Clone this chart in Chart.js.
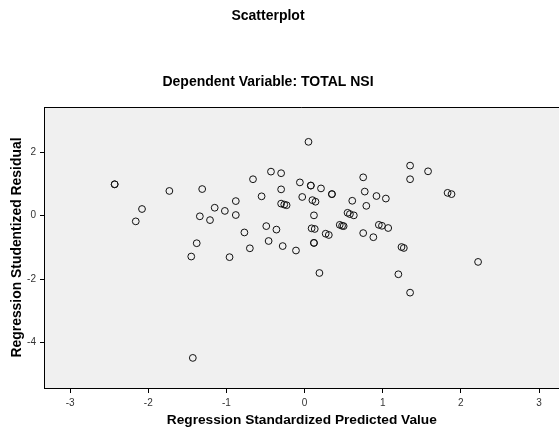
<!DOCTYPE html>
<html>
<head>
<meta charset="utf-8">
<script src="https://cdn.jsdelivr.net/npm/chart.js@4"></script>
<style>
  html, body { margin: 0; padding: 0; background: #ffffff; overflow: hidden; width: 559px; height: 430px; }
  #c { display: block; }
</style>
</head>
<body>
<canvas id="c" width="564" height="430"></canvas>
<script>
// Regression Standardized Predicted Value (x) and Regression Studentized Residual (y)
const predicted = [
  -2.43, -2.43, -1.73, -2.08, -2.16, -1.31, -1.34, -1.21, -1.38, -1.45,
  -1.43, -1.15, -1.02, -0.88, -0.88, -0.96, -0.77, -0.70, -0.66, -0.55,
  -0.49, -0.46, -0.43, -0.30, -0.36, -0.30, -0.28, -0.30, -0.26, -0.23,
  -0.11, -0.06, -0.03, 0.08, 0.08, 0.21, 0.10, 0.14, 0.12, 0.09,
  0.13, 0.12, 0.12, 0.19, 0.27, 0.31, 0.35, 0.35, 0.45, 0.48,
  0.50, 0.55, 0.58, 0.63, 0.61, 0.75, 0.77, 0.79, 0.75, 0.88,
  0.92, 1.04, 0.95, 0.99, 1.07, 1.35, 1.58, 1.35, 1.83, 1.88,
  1.24, 1.27, 2.22, 1.20, 1.35, 0.05
];
const residual = [
  0.99, 0.99, 0.78, 0.21, -0.18, 0.84, -0.02, -0.14, -0.87, -1.29,
  -4.49, 0.25, 0.15, 0.46, 0.02, -1.31, -0.53, -1.03, 1.15, 0.61,
  -0.33, -0.80, 1.39, 1.34, -0.44, 0.83, -0.96, 0.38, 0.35, 0.33,
  -1.10, 1.05, 0.59, 0.95, 0.95, 0.86, 0.49, 0.44, 0.01, -0.40,
  -0.42, -0.86, -0.86, -1.81, -0.57, -0.61, 0.68, 0.68, -0.29, -0.32,
  -0.33, 0.09, 0.05, 0.01, 0.47, 1.21, 0.76, 0.31, -0.55, -0.68,
  0.62, 0.54, -0.29, -0.32, -0.39, 1.58, 1.40, 1.15, 0.72, 0.68,
  -0.99, -1.02, -1.46, -1.85, -2.43, 2.33
];
const xTicks = [-3, -2, -1, 0, 1, 2, 3];
const yTicks = [-4, -2, 0, 2];
const mainTitle = 'Scatterplot';
const subTitle = 'Dependent Variable: TOTAL NSI';
const xTitle = 'Regression Standardized Predicted Value';
const yTitle = 'Regression Studentized Residual';

const FONT = '"Liberation Sans", Arial, Helvetica, sans-serif';

const points = predicted.map((x, i) => ({ x: x, y: residual[i] }));

const framePlugin = {
  id: 'frame',
  beforeDraw(chart) {
    const { ctx, chartArea: a } = chart;
    ctx.save();
    ctx.fillStyle = '#f0f0f0';
    ctx.fillRect(a.left, a.top, a.right - a.left, a.bottom - a.top);
    ctx.strokeStyle = '#000000';
    ctx.lineWidth = 1;
    ctx.beginPath();
    ctx.moveTo(a.left, a.top + 0.5);
    ctx.lineTo(a.right, a.top + 0.5);
    ctx.stroke();
    ctx.restore();
  },
  afterDraw(chart) {
    const ctx = chart.ctx;
    ctx.save();
    ctx.fillStyle = '#000000';
    ctx.textAlign = 'center';
    ctx.textBaseline = 'middle';
    ctx.font = 'bold 14px ' + FONT;
    ctx.fillText(mainTitle, 268, 16);
    ctx.fillText(subTitle, 268, 82);
    ctx.restore();
  }
};

new Chart(document.getElementById('c'), {
  type: 'scatter',
  data: {
    datasets: [{
      data: points,
      pointStyle: 'circle',
      pointRadius: 3.4,
      pointHoverRadius: 3.4,
      pointBorderWidth: 1,
      pointBackgroundColor: 'rgba(0,0,0,0)',
      pointBorderColor: '#111111',
      showLine: false
    }]
  },
  options: {
    responsive: false,
    animation: false,
    devicePixelRatio: 1,
    layout: { padding: { top: 107, left: 0, right: 0, bottom: 0 } },
    plugins: {
      legend: { display: false },
      tooltip: { enabled: false },
      title: { display: false }
    },
    scales: {
      x: {
        type: 'linear',
        position: 'bottom',
        min: -3.334,
        max: 3.263,
        afterFit(scale) { scale.height = 42; },
        afterBuildTicks(scale) { scale.ticks = xTicks.map(v => ({ value: v })); },
        grid: { drawOnChartArea: false, drawTicks: true, tickLength: 5, tickColor: '#000000', tickWidth: 1 },
        border: { display: true, color: '#000000', width: 1 },
        ticks: { font: { family: FONT, size: 10 }, color: '#333333', padding: 4, maxRotation: 0, autoSkip: false },
        title: { display: true, text: xTitle, font: { family: FONT, size: 13.7, weight: 'bold' }, color: '#000000', padding: { top: 0, bottom: 2 } }
      },
      y: {
        type: 'linear',
        position: 'left',
        min: -5.44,
        max: 3.43,
        afterFit(scale) { scale.width = 44; },
        afterBuildTicks(scale) { scale.ticks = yTicks.map(v => ({ value: v })); },
        grid: { drawOnChartArea: false, drawTicks: true, tickLength: 4, tickColor: '#000000', tickWidth: 1 },
        border: { display: true, color: '#000000', width: 1 },
        ticks: { font: { family: FONT, size: 10 }, color: '#333333', padding: 4, autoSkip: false },
        title: { display: true, text: yTitle, font: { family: FONT, size: 13.9, weight: 'bold' }, color: '#000000', padding: { top: 9, bottom: 0 } }
      }
    }
  },
  plugins: [framePlugin]
});
</script>
</body>
</html>
